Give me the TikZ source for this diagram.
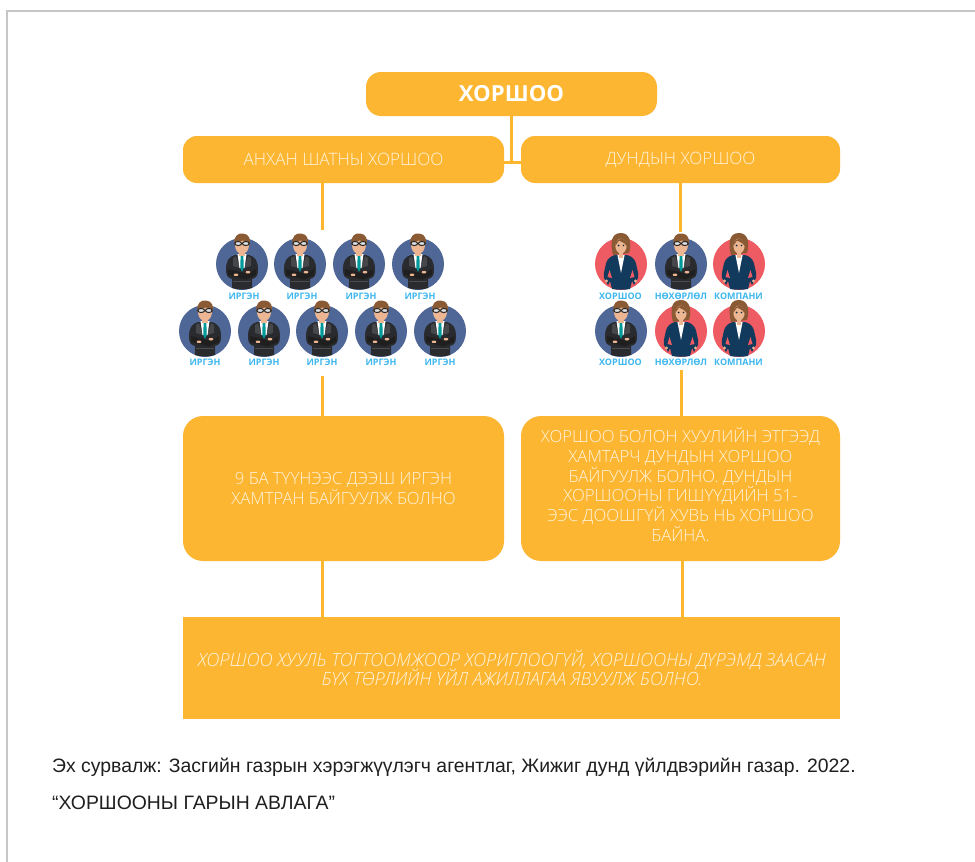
\documentclass[tikz,border=0pt]{standalone}
\usepackage{fontspec}
\setmainfont{Open Sans}
\newfontfamily\capfont{Liberation Sans}
\newfontfamily\lightf[ItalicFont={Open Sans Light Italic}]{Open Sans Light}
\lineskiplimit=-20pt
\definecolor{org}{HTML}{FDB632}
\definecolor{orgline}{HTML}{FCB72F}
\definecolor{cream}{HTML}{FFF3DC}
\definecolor{lblue}{HTML}{3DB7EE}
\definecolor{manbg}{HTML}{4F6797}
\definecolor{womanbg}{HTML}{EF5B62}
\definecolor{suit}{HTML}{2A2B2E}
\definecolor{suitl}{HTML}{45474B}
\definecolor{navy}{HTML}{123A5C}
\definecolor{hair}{HTML}{8A5A34}
\definecolor{skin}{HTML}{EDB692}
\definecolor{frameg}{HTML}{C6C6C8}
\tikzset{
 x=1pt,y=-1pt,
 rbox/.style={fill=org,rounded corners=#1,draw=none,inner sep=0pt,align=center,text=cream},
 conn/.style={draw=orgline,line width=3pt},
 thinconn/.style={draw=orgline,line width=2.4pt},
 plabel/.style={font=\fontsize{9}{10}\selectfont\bfseries,text=lblue,inner sep=0pt},
 pics/man/.style={code={
  \fill[manbg] (0,0) circle (26);
  \fill[suit] (-7,-9) .. controls (-13,-7) and (-16,-4) .. (-16,6) .. controls (-16,12) and (-14,14) .. (-10,15) -- (-10,24) .. controls (-4,26) and (4,26) .. (10,24) -- (10,15) .. controls (14,14) and (16,12) .. (16,6) .. controls (16,-4) and (13,-7) .. (7,-9) -- cycle;
  \fill[suitl] (-6,-8) -- (-2,4) -- (-9,2) -- (-9,-6) -- cycle;
  \fill[suitl] (6,-8) -- (2,4) -- (9,2) -- (9,-6) -- cycle;
  \fill[white] (-4.5,-10) -- (4.5,-10) -- (2.5,4) -- (-2.5,4) -- cycle;
  \fill[teal!80!cyan] (-1.4,-8) -- (1.4,-8) -- (1.7,4) -- (0,8) -- (-1.7,4) -- cycle;
  \fill[black!88] (-14,5) -- (6,10) -- (14,5) -- (14,11) -- (4,15.5) -- (-14,11) -- cycle;
  \fill[skin] (6,8.2) ellipse (2.4 and 1.3);
  \fill[skin] (-6,10.8) ellipse (2.4 and 1.3);
  \fill[black!70] (-9,17) rectangle (9,18.2);
  \fill[skin] (-3,-14) rectangle (3,-8.5);
  \fill[skin] (0,-19) ellipse (7 and 9);
  \fill[hair] (-7.5,-19) .. controls (-9,-29) and (-3,-31) .. (1,-30.5) .. controls (7,-30) and (9,-25) .. (7.5,-19) .. controls (6,-24) and (-3,-26) .. (-7.5,-19) -- cycle;
  \draw[black!85,line width=1pt,fill=white!75!gray] (-3.8,-20.5) ellipse (3.4 and 2) (3.8,-20.5) ellipse (3.4 and 2);
 }},
 pics/woman/.style={code={
  \fill[womanbg] (0,0) circle (26);
  \fill[hair] (0,-31) .. controls (-10,-31) and (-11,-21) .. (-8,-9) -- (8,-11) .. controls (11,-21) and (9,-31) .. (0,-31) -- cycle;
  \fill[navy] (-6,-9) .. controls (-13,-7) and (-15,-3) .. (-16,4) .. controls (-17,9) and (-18,11) .. (-17,14) -- (-13,21) -- (-11,17) -- (-9,25) .. controls (-3,26) and (3,26) .. (9,25) -- (11,17) -- (13,21) -- (17,14) .. controls (18,11) and (17,9) .. (16,4) .. controls (15,-3) and (13,-7) .. (6,-9) -- cycle;
  \fill[womanbg] (-11.5,6) -- (-9,14) -- (-13.5,13) -- cycle (11.5,6) -- (9,14) -- (13.5,13) -- cycle;
  \fill[white] (-3.6,-9) -- (3.6,-9) -- (0,9) -- cycle;
  \fill[skin] (-2.2,-13) rectangle (2.2,-6);
  \fill[skin] (0,-18) ellipse (5.6 and 7.4);
  \fill[hair] (-5.8,-18) .. controls (-5,-24) and (-2,-25.5) .. (1,-25.5) .. controls (4,-24) and (6.5,-22) .. (5.8,-18) .. controls (3,-22) and (0,-22) .. (-2,-23.5) .. controls (-3,-21) and (-5,-20) .. (-5.8,-18) -- cycle;
  \fill[navy!70!black] (-2.4,-18.5) circle (.9) (2.4,-18.5) circle (.9);
  \fill[skin] (-14.5,17) circle (1.6) (14.5,17) circle (1.6);
 }},
}
\newcommand{\fsz}[2]{\fontsize{#1}{#2}\selectfont}
\begin{document}
\begin{tikzpicture}
\useasboundingbox (0,0) rectangle (975,862);
\fill[white] (0,0) rectangle (975,862);
\draw[frameg,line width=1.8pt] (7,862) -- (7,11) -- (975,11);

\node[rbox=15pt,minimum width=291pt,minimum height=44pt,font=\fsz{22.2}{26}\bfseries,text=white] (top) at (511.5,94) {ХОРШОО};
\node[rbox=14pt,minimum width=321pt,minimum height=47pt,font=\lightf\fsz{17.1}{20}] (left) at (343.5,159.5) {АНХАН ШАТНЫ ХОРШОО};
\node[rbox=14pt,minimum width=319pt,minimum height=47pt,font=\lightf\fsz{17}{20}] (right) at (680.5,159.5) {ДУНДЫН ХОРШОО};
\node[rbox=20pt,minimum width=321pt,minimum height=145pt] (lowl) at (343.5,488.5) {};
\node[inner sep=0pt,align=center,text=cream,font=\lightf\fsz{16.75}{20}] (lowltext) at (343.5,489) {9 БА ТҮҮНЭЭС ДЭЭШ ИРГЭН\\ХАМТРАН БАЙГУУЛЖ БОЛНО};
\node[rbox=20pt,minimum width=319pt,minimum height=145pt] (lowr) at (680.5,488.5) {};
\node[inner sep=0pt,align=center,text=cream,font=\lightf\fsz{16.75}{19.8}] (lowrtext) at (680.5,484.5) {ХОРШОО БОЛОН ХУУЛИЙН ЭТГЭЭД\\ХАМТАРЧ ДУНДЫН ХОРШОО\\БАЙГУУЛЖ БОЛНО. ДУНДЫН\\ХОРШООНЫ ГИШҮҮДИЙН 51-\\ЭЭС ДООШГҮЙ ХУВЬ НЬ ХОРШОО\\БАЙНА.};
\node[rbox=0pt,minimum width=657pt,minimum height=102pt] (base) at (511.5,668) {};
\node[inner sep=0pt,align=center,text=cream,font=\lightf\itshape\fsz{18.2}{19}] (basetext) at (512,667.5) {ХОРШОО ХУУЛЬ ТОГТООМЖООР ХОРИГЛООГҮЙ, ХОРШООНЫ ДҮРЭМД ЗААСАН\\БҮХ ТӨРЛИЙН ҮЙЛ АЖИЛЛАГАА ЯВУУЛЖ БОЛНО.};

\coordinate (j) at (511.5,162);
\coordinate (la) at (322,230);
\coordinate (lb) at (322,376);
\coordinate (lc) at (322,561);
\coordinate (ra) at (680,232);
\coordinate (rb) at (681,370);
\coordinate (rc) at (682,561);
\draw[thinconn] (top.south) -- (j);
\draw[conn] (left.east |- j) -- (right.west |- j);
\draw[conn] (la |- left.south) -- (la);
\draw[conn] (lb) -- (lb |- lowl.north);
\draw[conn] (lc) -- (lc |- base.north);
\draw[conn] (ra |- right.south) -- (ra);
\draw[conn] (rb) -- (rb |- lowr.north);
\draw[conn] (rc) -- (rc |- base.north);

\foreach \i/\x in {1/242,2/300,3/359,4/418}{
 \pic at (\x,264) {man};
 \node[plabel] (lu\i) at (\x+2,296) {ИРГЭН};
}
\foreach \i/\x in {1/205,2/264,3/322,4/381,5/440}{
 \pic at (\x,331) {man};
 \node[plabel] (ll\i) at (\x,362.5) {ИРГЭН};
}
\pic at (621,264) {woman};
\pic at (681,264) {man};
\pic at (739,264) {woman};
\pic at (621,331) {man};
\pic at (681,331) {woman};
\pic at (739,331) {woman};
\node[plabel] (r1) at (620.5,296) {ХОРШОО};
\node[plabel] (r2) at (681,296) {НӨХӨРЛӨЛ};
\node[plabel] (r3) at (738.5,296) {КОМПАНИ};
\node[plabel] (r4) at (620.5,362.5) {ХОРШОО};
\node[plabel] (r5) at (681,362.5) {НӨХӨРЛӨЛ};
\node[plabel] (r6) at (738.5,362.5) {КОМПАНИ};

\node[anchor=base west,inner sep=0pt,font=\capfont\fsz{19.4}{22},text=black!88] (cap1) at (52,772.5) {Эх сурвалж: Засгийн газрын хэрэгжүүлэгч агентлаг, Жижиг дунд үйлдвэрийн газар. 2022.};
\node[anchor=base west,inner sep=0pt,font=\capfont\fsz{19.4}{22},text=black!88] (cap2) at (52,809) {“ХОРШООНЫ ГАРЫН АВЛАГА”};
\end{tikzpicture}
\end{document}
